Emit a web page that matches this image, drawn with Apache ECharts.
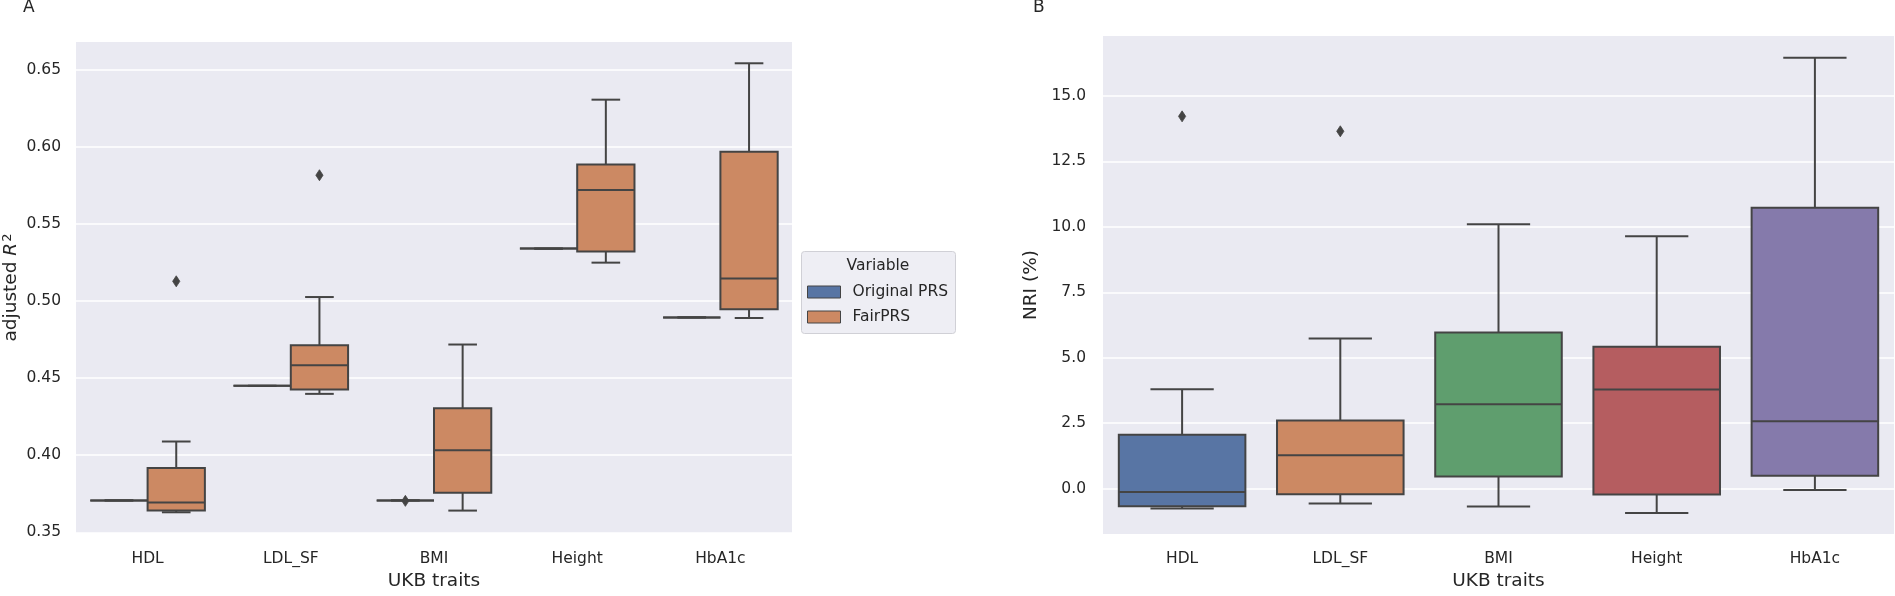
<!DOCTYPE html>
<html>
<head>
<meta charset="utf-8">
<script src="https://cdn.jsdelivr.net/npm/echarts@6/dist/echarts.min.js"></script>
<style>
html,body{margin:0;padding:0;background:#fff;}
#chart{width:1895px;height:596px;}
</style>
</head>
<body>
<div id="chart"></div>
<script>
// ---------------- data ----------------
const categories = ['HDL', 'LDL_SF', 'BMI', 'Height', 'HbA1c'];
const hueNames = ['Original PRS', 'FairPRS'];

// panel A: adjusted R^2, each [min, q1, median, q3, max]
const r2Original = [
  [0.3707, 0.3707, 0.3707, 0.3707, 0.3707],
  [0.4450, 0.4450, 0.4450, 0.4450, 0.4450],
  [0.3707, 0.3707, 0.3707, 0.3707, 0.3707],
  [0.5340, 0.5340, 0.5340, 0.5340, 0.5340],
  [0.4894, 0.4894, 0.4894, 0.4894, 0.4894]
];
const r2Fair = [
  [0.3630, 0.3641, 0.3694, 0.3917, 0.4089],
  [0.4398, 0.4427, 0.4584, 0.4714, 0.5026],
  [0.3641, 0.3756, 0.4032, 0.4304, 0.4718],
  [0.5249, 0.5322, 0.5720, 0.5886, 0.6306],
  [0.4890, 0.4947, 0.5147, 0.5969, 0.6542]
];
// outliers: [category index, value]
const r2OriginalOutliers = [[2, 0.3704]];
const r2FairOutliers = [[0, 0.5128], [1, 0.5816]];

// panel B: NRI (%), each [min, q1, median, q3, max]
const nri = [
  [-0.755, -0.668, -0.128, 2.06, 3.80],
  [-0.566, -0.215, 1.28, 2.60, 5.74],
  [-0.68, 0.464, 3.22, 5.96, 10.10],
  [-0.93, -0.227, 3.79, 5.42, 9.64],
  [-0.05, 0.49, 2.57, 10.73, 16.46]
];
const nriOutliers = [[0, 14.22], [1, 13.65]];

// tick labels
const r2Ticks = [0.35, 0.40, 0.45, 0.50, 0.55, 0.60, 0.65];
const nriTicks = [0, 2.5, 5, 7.5, 10, 12.5, 15];

// ---------------- styles ----------------
const FONT = 'DejaVu Sans';
const TXT = '#262626';
const EDGE = '#444444';
const BG = '#EAEAF2';
const FS = 15.5;     // tick / legend text
const FS_NAME = 18.5; // axis titles
const hueColors = ['#5875a4', '#cc8963'];
const nriColors = ['#5875a4', '#cc8963', '#5f9e6e', '#b55d60', '#857aab'];

function withIndex(arr) { return arr.map((d, i) => [i].concat(d)); }
function txt(extra) { return Object.assign({ fontFamily: FONT, fontSize: FS, color: TXT }, extra || {}); }
function lineStyle() { return { stroke: EDGE, lineWidth: 2, fill: null }; }

function makeBoxRenderer(offset, widthFrac, colorOf) {
  return function (params, api) {
    const cat = api.value(0);
    const v = [1, 2, 3, 4, 5].map(i => api.value(i));
    const band = api.size([1, 0])[0];
    const cx = api.coord([cat, v[2]])[0] + offset * band;
    const w = widthFrac * band;
    const Y = val => api.coord([cat, val])[1];
    const yMin = Y(v[0]), yQ1 = Y(v[1]), yMed = Y(v[2]), yQ3 = Y(v[3]), yMax = Y(v[4]);
    const ch = w / 4;
    return {
      type: 'group',
      children: [
        { type: 'line', shape: { x1: cx, y1: yQ3, x2: cx, y2: yMax }, style: lineStyle() },
        { type: 'line', shape: { x1: cx, y1: yQ1, x2: cx, y2: yMin }, style: lineStyle() },
        { type: 'line', shape: { x1: cx - ch, y1: yMax, x2: cx + ch, y2: yMax }, style: lineStyle() },
        { type: 'line', shape: { x1: cx - ch, y1: yMin, x2: cx + ch, y2: yMin }, style: lineStyle() },
        { type: 'rect', shape: { x: cx - w / 2, y: yQ3, width: w, height: yQ1 - yQ3 },
          style: { fill: colorOf(params.dataIndex), stroke: EDGE, lineWidth: 2 } },
        { type: 'line', shape: { x1: cx - w / 2, y1: yMed, x2: cx + w / 2, y2: yMed }, style: lineStyle() }
      ]
    };
  };
}

function makeOutlierRenderer(offset) {
  return function (params, api) {
    const band = api.size([1, 0])[0];
    const p = api.coord([api.value(0), api.value(1)]);
    const cx = p[0] + offset * band, cy = p[1];
    return {
      type: 'polygon',
      shape: { points: [[cx, cy - 5.5], [cx + 3.6, cy], [cx, cy + 5.5], [cx - 3.6, cy]] },
      style: { fill: EDGE, stroke: EDGE, lineWidth: 0.8 }
    };
  };
}

function xAxisDef(gridIndex, margin) {
  return {
    type: 'category', gridIndex, data: categories,
    axisLine: { show: false }, axisTick: { show: false },
    axisLabel: txt({ margin }),
    splitLine: { show: false },
    name: 'UKB traits', nameLocation: 'middle', nameGap: 37.5,
    nameTextStyle: txt({ fontSize: FS_NAME })
  };
}

const chart = echarts.init(document.getElementById('chart'));
chart.setOption({
  animation: false,
  backgroundColor: '#ffffff',
  textStyle: { fontFamily: FONT },
  grid: [
    { left: 76, top: 42, width: 716, height: 498, show: true, backgroundColor: BG, borderWidth: 0 },
    { left: 1103, top: 36, width: 791, height: 504.3, show: true, backgroundColor: BG, borderWidth: 0 }
  ],
  xAxis: [xAxisDef(0, 18), xAxisDef(1, 17)],
  yAxis: [
    {
      type: 'value', gridIndex: 0, min: 0.3495, max: 0.668,
      axisLine: { show: false },
      axisTick: { show: false, customValues: r2Ticks },
      axisLabel: txt({ margin: 15, customValues: r2Ticks, formatter: v => v.toFixed(2) }),
      splitLine: { show: true, lineStyle: { color: '#ffffff', width: 1.6 } },
      name: '{n|adjusted }{i|R}{s|2}', nameLocation: 'middle', nameGap: 54,
      nameTextStyle: txt({ fontSize: FS_NAME, rich: {
        n: txt({ fontSize: FS_NAME }),
        i: txt({ fontSize: FS_NAME, fontStyle: 'italic' }),
        s: txt({ fontSize: 13, padding: [0, 0, 8, 1] })
      } })
    },
    {
      type: 'value', gridIndex: 1, min: -1.736, max: 17.29,
      axisLine: { show: false },
      axisTick: { show: false, customValues: nriTicks },
      axisLabel: txt({ margin: 17, customValues: nriTicks, formatter: v => v.toFixed(1) }),
      splitLine: { show: true, lineStyle: { color: '#ffffff', width: 1.6 } },
      name: 'NRI (%)', nameLocation: 'middle', nameGap: 62,
      nameTextStyle: txt({ fontSize: FS_NAME })
    }
  ],
  legend: {
    orient: 'vertical', left: 807, top: 284, itemWidth: 33, itemHeight: 12, itemGap: 9,
    padding: 0, z: 10,
    textStyle: txt({ padding: [0, 0, 0, 7] }),
    data: [
      { name: hueNames[0], icon: 'rect', itemStyle: { color: hueColors[0], borderColor: EDGE, borderWidth: 1 } },
      { name: hueNames[1], icon: 'rect', itemStyle: { color: hueColors[1], borderColor: EDGE, borderWidth: 1 } }
    ]
  },
  graphic: [
    { type: 'text', left: 23, top: -1, style: { text: 'A', font: '17px "DejaVu Sans"', fill: TXT } },
    { type: 'text', left: 1033, top: -1, style: { text: 'B', font: '17px "DejaVu Sans"', fill: TXT } },
    { type: 'rect', left: 801, top: 251, z: 5, shape: { width: 154, height: 82, r: 3 },
      style: { fill: '#eeeef4', stroke: '#d0d0d6', lineWidth: 1 } },
    { type: 'text', x: 878, y: 266, z: 6,
      style: { text: 'Variable', font: '15.5px "DejaVu Sans"', fill: TXT, textAlign: 'center', textVerticalAlign: 'middle' } }
  ],
  series: [
    {
      type: 'custom', name: hueNames[0], xAxisIndex: 0, yAxisIndex: 0,
      itemStyle: { color: hueColors[0] },
      encode: { x: 0, y: [1, 2, 3, 4, 5] },
      renderItem: makeBoxRenderer(-0.2, 0.4, () => hueColors[0]),
      data: withIndex(r2Original)
    },
    {
      type: 'custom', name: hueNames[1], xAxisIndex: 0, yAxisIndex: 0,
      itemStyle: { color: hueColors[1] },
      encode: { x: 0, y: [1, 2, 3, 4, 5] },
      renderItem: makeBoxRenderer(0.2, 0.4, () => hueColors[1]),
      data: withIndex(r2Fair)
    },
    {
      type: 'custom', name: 'outliers-orig', xAxisIndex: 0, yAxisIndex: 0,
      encode: { x: 0, y: 1 },
      renderItem: makeOutlierRenderer(-0.2),
      data: r2OriginalOutliers
    },
    {
      type: 'custom', name: 'outliers-fair', xAxisIndex: 0, yAxisIndex: 0,
      encode: { x: 0, y: 1 },
      renderItem: makeOutlierRenderer(0.2),
      data: r2FairOutliers
    },
    {
      type: 'custom', name: 'NRI', xAxisIndex: 1, yAxisIndex: 1,
      encode: { x: 0, y: [1, 2, 3, 4, 5] },
      renderItem: makeBoxRenderer(0, 0.8, i => nriColors[i]),
      data: withIndex(nri)
    },
    {
      type: 'custom', name: 'NRI-outliers', xAxisIndex: 1, yAxisIndex: 1,
      encode: { x: 0, y: 1 },
      renderItem: makeOutlierRenderer(0),
      data: nriOutliers
    }
  ]
});
</script>
</body>
</html>
